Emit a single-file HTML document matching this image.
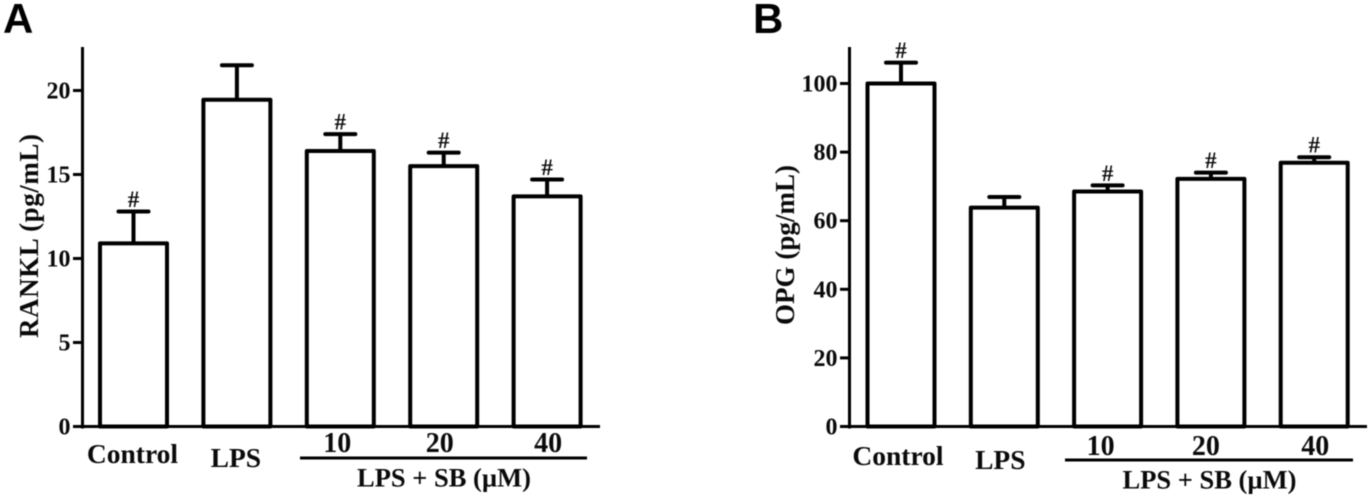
<!DOCTYPE html>
<html>
<head>
<meta charset="utf-8">
<style>
html,body{margin:0;padding:0;background:#fff;width:1370px;height:496px;overflow:hidden}
svg{display:block;filter:blur(0.5px)}
text{font-family:"Liberation Serif",serif;font-weight:bold;fill:#0a0a0a}
</style>
</head>
<body>
<svg id="chart" xmlns="http://www.w3.org/2000/svg" width="1370" height="496" viewBox="0 0 1370 496"></svg>
<script>
const categories = ['Control', 'LPS', '10', '20', '40'];
const groupLabel = 'LPS + SB (µM)';
const rankMeans = [10.9, 19.45, 16.4, 15.5, 13.7];
const rankErrors = [1.9, 2.05, 1.0, 0.8, 1.0];
const rankMarks = ['#', '', '#', '#', '#'];
const rankTicks = [0, 5, 10, 15, 20];
const opgMeans = [100, 63.8, 68.5, 72.2, 76.9];
const opgErrors = [6.1, 3.1, 1.8, 1.8, 1.6];
const opgMarks = ['#', '', '#', '#', '#'];
const opgTicks = [0, 20, 40, 60, 80, 100];

const NS = 'http://www.w3.org/2000/svg';
const svg = document.getElementById('chart');

function add(parent, tag, attrs, txt) {
  const el = document.createElementNS(NS, tag);
  for (const k in attrs) el.setAttribute(k, attrs[k]);
  if (txt !== undefined) el.textContent = txt;
  parent.appendChild(el);
  return el;
}

function drawPanel(p) {
  const g = add(svg, 'g', {});
  
  
  const y = v => p.y0 - v * p.pxPerUnit;
  const x = i => p.x0 + i * p.step;

  const letter = add(g, 'text', {x: p.letterX, y: 33, 'font-size': 42, style: 'font-family:"Liberation Sans",sans-serif;fill:#000'}, p.letter);
  
  

  const yAxis = add(g, 'line', {x1: p.axisX, x2: p.axisX, y1: 47, y2: p.y0 + 2, stroke: '#000', 'stroke-width': 3});
  
  

  const xAxis = add(g, 'line', {x1: p.axisX - 9.5, x2: p.axisEnd, y1: p.y0, y2: p.y0, stroke: '#000', 'stroke-width': 3});
  
  

  p.ticks.forEach(t => {
    const tick = add(g, 'line', {x1: p.axisX - 9.5, x2: p.axisX, y1: y(t), y2: y(t), stroke: '#000', 'stroke-width': 3});
    
    
    const lab = add(g, 'text', {x: p.axisX - 12, y: y(t) + 8, 'text-anchor': 'end', 'font-size': 24}, String(t));
    
    
  });

  const title = add(g, 'text', {
    transform: 'translate(' + p.titleX + ',' + p.titleY + ') rotate(-90)',
    'text-anchor': 'middle', 'font-size': 27, textLength: p.titleLen
  }, p.title);
  
  

  p.means.forEach((m, i) => {
    const cx = x(i);
    const capY = y(m + p.errors[i]);
    const stem = add(g, 'line', {x1: cx, x2: cx, y1: y(m), y2: capY, stroke: '#000', 'stroke-width': 4});
    
    
    const cap = add(g, 'line', {x1: cx - 15, x2: cx + 15, y1: capY, y2: capY, stroke: '#000', 'stroke-width': 4, 'stroke-linecap': 'round'});
    
    
    const bar = add(g, 'rect', {x: cx - 33.5, y: y(m), width: 67, height: p.y0 - y(m), fill: '#fff', stroke: '#000', 'stroke-width': 4, 'stroke-linejoin': 'round'});
    
    
    if (p.marks[i]) {
      const mark = add(g, 'text', {x: cx, y: capY - 4.5, 'text-anchor': 'middle', 'font-size': 23}, p.marks[i]);
      
      
    }
    const cat = add(g, 'text', {x: cx + p.catDx[i], y: p.catY[i], 'text-anchor': 'middle', 'font-size': i < 2 ? 27.5 : 28}, categories[i]);
    
    
  });

  const rule = add(g, 'line', {x1: p.ruleX1, x2: p.ruleX2, y1: p.ruleY, y2: p.ruleY, stroke: '#000', 'stroke-width': 3});
  
  
  const grp = add(g, 'text', {x: (p.ruleX1 + p.ruleX2) / 2 + 0.5, y: p.ruleY + 28.5, 'text-anchor': 'middle', 'font-size': 26.5}, groupLabel);
  
  
}

drawPanel({
  key: 'rankl', letter: 'A', letterX: 3, axisX: 82.5, axisEnd: 600, y0: 426.5, pxPerUnit: 16.8,
  x0: 133.5, step: 103.4, means: rankMeans, errors: rankErrors, marks: rankMarks, ticks: rankTicks,
  title: 'RANKL (pg/mL)', titleX: 38, titleY: 236, titleLen: 204,
  catDx: [-1, -1, -3, -4, 1], catY: [463, 467, 452, 452, 452],
  ruleX1: 300, ruleX2: 587, ruleY: 458
});
drawPanel({
  key: 'opg', letter: 'B', letterX: 753, axisX: 849.5, axisEnd: 1367, y0: 426.5, pxPerUnit: 3.43,
  x0: 901, step: 103.3, means: opgMeans, errors: opgErrors, marks: opgMarks, ticks: opgTicks,
  title: 'OPG (pg/mL)', titleX: 794, titleY: 245, titleLen: 160,
  catDx: [-3, -4, -7, -5, 1], catY: [465, 469, 455, 455, 455],
  ruleX1: 1065, ruleX2: 1353, ruleY: 460
});
</script>
</body>
</html>
